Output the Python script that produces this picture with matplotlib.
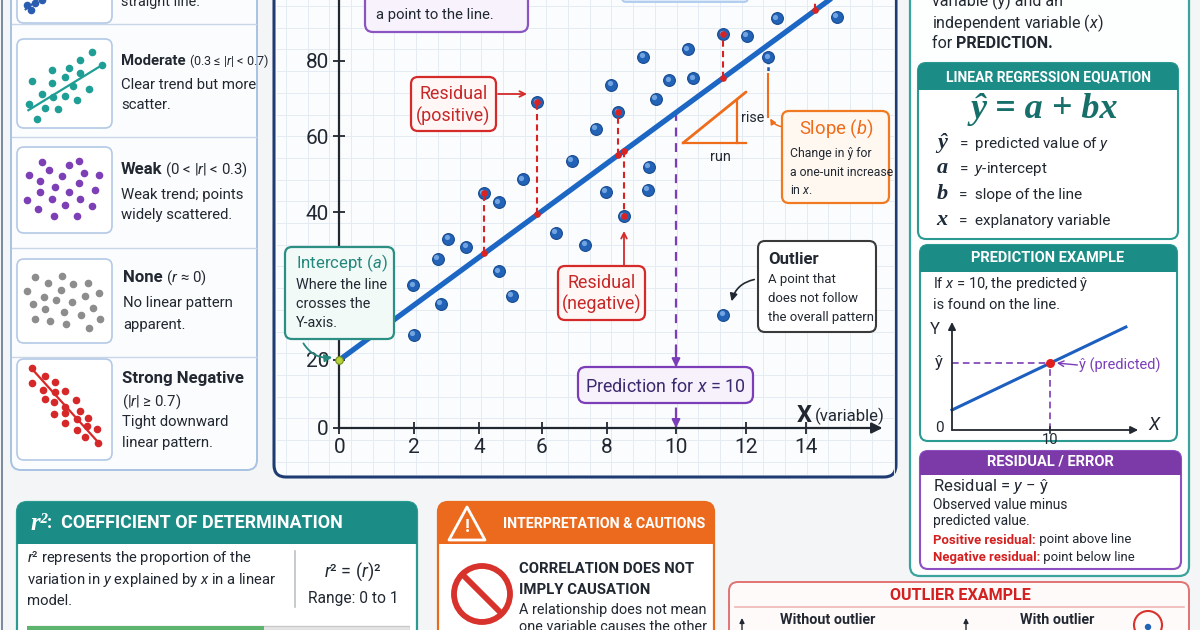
import numpy as np
import matplotlib.pyplot as plt
from matplotlib import font_manager
from matplotlib.patches import FancyBboxPatch, Rectangle, Circle, Polygon, FancyArrowPatch
from matplotlib.transforms import offset_copy

names = {f.name for f in font_manager.fontManager.ttflist}
SANS = 'Roboto' if 'Roboto' in names else 'DejaVu Sans'
HAS_NARROW = 'Liberation Sans Narrow' in names
NARROW = 'Liberation Sans Narrow' if HAS_NARROW else SANS
SERIF = 'Liberation Serif' if 'Liberation Serif' in names else 'DejaVu Serif'

plt.rcParams['font.family'] = [SANS, 'DejaVu Sans']
plt.rcParams['mathtext.fontset'] = 'custom'
plt.rcParams['mathtext.rm'] = SANS
plt.rcParams['mathtext.it'] = SANS + ':italic'
plt.rcParams['mathtext.bf'] = SANS + ':bold'


def nf(size):
    # narrow font gets a bigger size to keep the same width
    return size if HAS_NARROW else size * 0.86


# ---------------- data ----------------
# main scatter (observed x, y)
x_obs = [1.98, 2.0, 2.73, 2.83, 3.06, 3.61, 4.16, 4.63, 4.63, 5.04, 5.39, 5.86, 6.44, 6.92,
         7.33, 7.65, 7.97, 8.12, 8.33, 8.49, 9.05, 9.18, 9.22, 9.42, 9.81, 10.34, 10.5,
         11.36, 12.03, 12.75, 13.03, 15.02]
y_obs = [30.1, 23.4, 33.7, 27.6, 36.4, 35.3, 44.9, 42.6, 32.0, 28.7, 48.6, 69.0, 37.2, 53.5,
         35.6, 61.9, 45.3, 73.6, 66.3, 39.4, 81.1, 45.8, 51.9, 69.9, 74.9, 83.1, 75.4,
         87.1, 86.7, 81.0, 91.4, 91.8]
outlier_x = [11.36]
outlier_y = [26.1]
intercept_a = 20
line_x = [0, 15.0]
line_y = [20, 97.6]
resid_x = [4.16, 5.86, 8.33, 8.49, 11.36, 14.3]
resid_obs = [44.9, 69.0, 66.3, 39.4, 87.1, 99.0]
resid_fit = [34.4, 39.7, 55.0, 56.1, 75.5, 93.5]
pred_x = 10
pred_fit = 66.3
slope_x = 12.75
x_ticks = [0, 2, 4, 6, 8, 10, 12, 14]
y_ticks = [0, 20, 40, 60, 80]

# hand-drawn ruler of the picture (value -> pixel)
x_knot_val = [-2, 0, 2, 4, 6, 8, 10, 12, 14, 17]
x_knot_px = [272.7, 339.3, 414, 479, 541.7, 607, 676, 745.7, 806, 896]
y_knot_val = [-20, 0, 20, 40, 60, 80, 100]
y_knot_px = [496, 428, 360, 212, 136, 61, -14]

# correlation icons (0-10 box units)
pos_x = [1.0, 1.5, 1.9, 2.6, 3.4, 4.2, 5.0, 5.8, 6.6, 7.4, 8.2]
pos_y = [2.1, 1.5, 2.3, 2.7, 3.6, 4.4, 5.2, 6.1, 6.7, 7.6, 8.4]
mod_x = [7.9, 6.6, 3.7, 5.5, 6.6, 1.6, 3.7, 5.1, 5.9, 7.6, 2.6, 3.8, 5.1, 6.3, 1.3, 2.9, 4.3, 2.1, 9.0]
mod_y = [8.5, 7.6, 6.5, 6.7, 6.2, 5.3, 5.1, 5.7, 4.7, 4.4, 3.8, 3.5, 3.6, 3.1, 2.7, 2.3, 2.1, 1.0, 7.1]
weak_x = [2.6, 6.5, 3.4, 5.5, 1.3, 4.7, 7.1, 8.6, 2.4, 6.5, 4.0, 2.4, 5.5, 8.2, 3.7, 6.6, 1.1, 5.0, 7.9, 2.2, 3.9, 6.3]
weak_y = [8.3, 8.4, 7.3, 7.9, 6.7, 6.6, 7.0, 6.7, 6.0, 5.8, 5.3, 4.8, 4.8, 5.0, 3.9, 3.9, 3.8, 3.3, 3.1, 2.8, 2.0, 2.0]
none_x = [1.9, 4.7, 3.3, 5.9, 7.5, 1.1, 4.6, 2.8, 7.2, 8.6, 1.7, 4.1, 5.8, 8.0, 2.9, 4.9, 6.7, 1.9, 3.5, 5.2, 8.7, 7.6]
none_y = [7.8, 8.0, 7.1, 7.0, 7.2, 6.2, 6.3, 5.5, 5.6, 5.9, 4.6, 5.1, 4.9, 4.2, 4.0, 3.7, 3.3, 2.9, 2.6, 2.3, 2.9, 1.8]
neg_x = [1.6, 2.9, 1.6, 4.0, 2.7, 4.0, 5.1, 3.0, 3.9, 6.2, 5.1, 6.6, 3.9, 5.1, 6.3, 7.5, 5.1, 7.4, 6.3, 8.4, 7.2, 8.5]
neg_y = [9.1, 8.3, 7.6, 7.7, 6.9, 6.7, 6.8, 6.0, 5.7, 5.9, 5.2, 4.9, 4.6, 4.7, 4.1, 4.2, 3.7, 3.4, 3.0, 3.1, 2.3, 1.7]

# prediction example mini chart
mini_line_x = [0, 17.75]
mini_line_y = [2.0, 10.3]
mini_pred_x = 10
mini_pred_y = 6.7

r2_value = 0.62

# ---------------- colours ----------------
NAVY = '#1f3c72'
TEAL = '#1c8c86'
TEAL_T = '#23877c'
PURPLE = '#7b3db8'
ORANGE = '#ee6c1a'
RED = '#d42a2a'
BLUE = '#2263b8'
DARK = '#222831'


def px_axes(ax):
    ax.set_xlim(0, 1200)
    ax.set_ylim(630, 0)
    ax.axis('off')


def rbox(ax, x0, y0, x1, y1, ec, fc='white', lw=1.5, r=7, z=2):
    p = FancyBboxPatch((x0, y0), x1 - x0, y1 - y0, boxstyle=f'round,pad=0,rounding_size={r}',
                       ec=ec, fc=fc, lw=lw, zorder=z)
    ax.add_patch(p)
    return p


def header(ax, x0, y0, x1, y1, fc, r=7, z=3):
    ax.add_patch(FancyBboxPatch((x0, y0), x1 - x0, y1 - y0, boxstyle=f'round,pad=0,rounding_size={r}',
                                ec='none', fc=fc, zorder=z))
    ax.add_patch(Rectangle((x0, (y0 + y1) / 2), x1 - x0, (y1 - y0) / 2, ec='none', fc=fc, zorder=z))


def t(ax, x, y, s, size=10, color=DARK, weight='normal', ha='left', va='center', family=None,
      style='normal', z=6):
    kw = dict(fontsize=size, color=color, fontweight=weight, ha=ha, va=va, style=style, zorder=z)
    if family:
        kw['family'] = family
    return ax.text(x, y, s, **kw)


def after(ax, prev, s, size=10, color=DARK, weight='normal', family=None, style='normal'):
    kw = dict(fontsize=size, color=color, fontweight=weight, style=style, zorder=6)
    if family:
        kw['family'] = family
    return ax.annotate(s, xy=(1, 0.5), xycoords=prev, ha='left', va='center', **kw)


fig = plt.figure(figsize=(12, 6.3), dpi=100)
fig.patch.set_facecolor('#f4f5f6')

bg = fig.add_axes([0, 0, 1, 1])
px_axes(bg)

# outer frame line on the left edge
bg.plot([1.5, 1.5], [0, 630], color='#66768f', lw=1.2)

# ---------- left panel ----------
rbox(bg, 11, -30, 257, 470, ec='#a8c2e3', fc='#fbfcfd', lw=1.4, r=10)
for yy in [24, 137, 248, 357]:
    bg.plot([12, 256], [yy, yy], color='#c9d6e8', lw=1.0, zorder=2)
icon_boxes = [(17, -62, 112, 23), (17, 39, 112, 128), (17, 147, 112, 233), (17, 259, 112, 343), (17, 359, 112, 460)]
for (a, b, c, d) in icon_boxes:
    rbox(bg, a, b, c, d, ec='#b3c9e6', fc='white', lw=1.2, r=7, z=3)

# ---------- main panel ----------
rbox(bg, 274, -20, 896, 477, ec=NAVY, fc='#fbfcfd', lw=2.2, r=12)
for gx in np.arange(286, 894, 21.7):
    bg.plot([gx, gx], [0, 474], color='#e5ebf2', lw=0.7, zorder=2.5)
for gy in np.arange(6, 474, 21.7):
    bg.plot([277, 893], [gy, gy], color='#e5ebf2', lw=0.7, zorder=2.5)

# ---------- right panel ----------
rbox(bg, 910, -30, 1189, 576, ec='#3aa39b', fc='#fdfefe', lw=1.6, r=10)
rbox(bg, 918, 63, 1178, 239, ec='#2a9a92', lw=1.5, r=8, z=3)
header(bg, 918, 63, 1178, 90, TEAL, r=8, z=4)
rbox(bg, 920, 245, 1177, 441, ec='#2a9a92', lw=1.5, r=8, z=3)
header(bg, 920, 245, 1177, 272, TEAL, r=8, z=4)
rbox(bg, 920, 451, 1181, 569, ec='#8e4fc2', lw=1.5, r=8, z=3)
header(bg, 920, 451, 1181, 475, '#7b3aa8', r=8, z=4)

# ---------- bottom panels ----------
rbox(bg, 17, 502, 417, 680, ec='#2a9a92', lw=1.6, r=10)
header(bg, 17, 502, 417, 544, TEAL, r=10)
rbox(bg, 438, 502, 714, 680, ec='#e86a1c', lw=1.6, r=10)
header(bg, 438, 502, 714, 544, '#ec6a1e', r=10)
rbox(bg, 729, 582, 1189, 680, ec='#e27272', fc='#fffafa', lw=1.4, r=9)

# ---------------- main chart ----------------
def fxw(v):
    return np.interp(v, x_knot_val, x_knot_px)


def fxi(p):
    return np.interp(p, x_knot_px, x_knot_val)


neg_ypx = [-p for p in y_knot_px]


def fyw(v):
    return np.interp(v, y_knot_val, neg_ypx)


def fyi(p):
    return np.interp(p, neg_ypx, y_knot_val)


L, R, B = 339.3, 896, 428
chart = fig.add_axes([L / 1200, (630 - B) / 630, (R - L) / 1200, B / 630])
chart.set_xscale('function', functions=(fxw, fxi))
chart.set_yscale('function', functions=(fyw, fyi))
chart.set_xlim(0, 17)
chart.set_ylim(0, fyi(0))
chart.patch.set_visible(False)
for side in ['top', 'right', 'bottom']:
    chart.spines[side].set_visible(False)
chart.spines['left'].set_color(DARK)
chart.spines['left'].set_linewidth(1.6)
chart.set_xticks(x_ticks, labels=[str(v) for v in x_ticks], fontfamily=NARROW, fontsize=nf(17.5))
chart.set_yticks(y_ticks, labels=[str(v) for v in y_ticks], fontfamily=NARROW, fontsize=nf(17.5))
chart.minorticks_off()
chart.tick_params(axis='x', direction='inout', length=9, width=1.3, colors=DARK, pad=3)
chart.tick_params(axis='y', direction='inout', length=9, width=1.3, colors=DARK, pad=3)
chart.annotate('', xy=(16.55, 0), xytext=(0, 0), annotation_clip=False,
               arrowprops=dict(arrowstyle='-|>', color=DARK, lw=1.6, mutation_scale=16, shrinkA=0, shrinkB=0))

chart.plot(line_x, line_y, color='#1c66c4', lw=3.8, solid_capstyle='round', zorder=3)

for xr, yo, yf in zip(resid_x, resid_obs, resid_fit):
    chart.plot([xr, xr], [yf, yo], color='#d92323', lw=1.5, ls=(0, (3, 2)), zorder=5)
    chart.scatter([xr, xr], [yf, yo], s=14, color='#d92323', zorder=6)

chart.plot([pred_x, pred_x], [pred_fit, 0], color=PURPLE, lw=1.6, ls=(0, (4, 3)), zorder=2)
chart.annotate('', xy=(pred_x, 17.9), xytext=(pred_x, 22), annotation_clip=False,
               arrowprops=dict(arrowstyle='-|>', color=PURPLE, lw=1.5, mutation_scale=12, shrinkA=0, shrinkB=0))
chart.annotate('', xy=(pred_x, 0), xytext=(pred_x, 3.5), annotation_clip=False,
               arrowprops=dict(arrowstyle='-|>', color=PURPLE, lw=1.5, mutation_scale=12, shrinkA=0, shrinkB=0))

chart.plot([slope_x, slope_x], [80.2, 77.2], color='#1d55a8', lw=1.8, ls=(0, (1.5, 1.2)), zorder=3)
chart.plot([slope_x, slope_x], [76.6, 65.0], color=ORANGE, lw=1.5, zorder=3)

hl = offset_copy(chart.transData, fig=fig, x=-1.6, y=1.6, units='dots')
for xs, ys in [(x_obs, y_obs), (outlier_x, outlier_y)]:
    chart.scatter(xs, ys, s=72, color=BLUE, edgecolor='#164a8e', lw=0.8, zorder=4)
    chart.scatter(xs, ys, s=14, color='#8dbbef', alpha=0.75, lw=0, zorder=4.5, transform=hl)
chart.scatter([0], [intercept_a], s=30, color='#b9d23c', edgecolor='#6d8f1c', lw=0.8, zorder=7, clip_on=False)

# ---------------- icons ----------------
def icon_axes(box):
    a, b, c, d = box
    ax = fig.add_axes([a / 1200, 1 - d / 630, (c - a) / 1200, (d - b) / 630])
    ax.set_xlim(0, 10)
    ax.set_ylim(0, 10)
    ax.axis('off')
    return ax


ia = icon_axes(icon_boxes[0])
ia.plot([0.9, 8.8], [1.6, 8.6], color='#2a5db0', lw=1.4)
ia.scatter(pos_x, pos_y, s=20, color='#2a5db0', zorder=3)
ia = icon_axes(icon_boxes[1])
ia.plot([1.2, 9.0], [2.0, 7.1], color='#1f9e95', lw=1.6)
ia.scatter(mod_x, mod_y, s=20, color='#1f9e95', zorder=3)
ia = icon_axes(icon_boxes[2])
ia.scatter(weak_x, weak_y, s=20, color='#7d3fb6', zorder=3)
ia = icon_axes(icon_boxes[3])
ia.scatter(none_x, none_y, s=20, color='#8d8d8d', zorder=3)
ia = icon_axes(icon_boxes[4])
ia.plot([1.5, 8.6], [9.1, 1.7], color='#d62828', lw=1.6)
ia.scatter(neg_x, neg_y, s=20, color='#d62828', zorder=3)

# ---------------- mini prediction chart ----------------
mini = fig.add_axes([952 / 1200, 1 - 430 / 630, 193 / 1200, 110 / 630])
mini.set_xlim(0, 19.7)
mini.set_ylim(0, 11)
mini.axis('off')
mini.annotate('', xy=(19.0, 0), xytext=(0, 0), annotation_clip=False,
              arrowprops=dict(arrowstyle='-|>', color=DARK, lw=1.3, mutation_scale=11, shrinkA=0, shrinkB=0))
mini.annotate('', xy=(0, 10.8), xytext=(0, 0), annotation_clip=False,
              arrowprops=dict(arrowstyle='-|>', color=DARK, lw=1.3, mutation_scale=11, shrinkA=0, shrinkB=0))
mini.plot(mini_line_x, mini_line_y, color='#1c5fc0', lw=2.2, clip_on=False)
mini.plot([0, mini_pred_x], [mini_pred_y, mini_pred_y], color=PURPLE, lw=1.2, ls=(0, (4, 2.5)))
mini.plot([mini_pred_x, mini_pred_x], [0, mini_pred_y], color=PURPLE, lw=1.2, ls=(0, (4, 2.5)))
mini.plot([mini_pred_x, mini_pred_x], [-0.3, 0.3], color=DARK, lw=1.2, clip_on=False)
mini.scatter([mini_pred_x], [mini_pred_y], s=30, color='#e02020', zorder=5)
mini.text(mini_pred_x, -0.3, '10', ha='center', va='top', fontsize=10.5, color=DARK)
mini.text(-0.9, mini_pred_y, 'ŷ', ha='right', va='center', fontsize=12, color=DARK)
mini.text(-1.2, 10.0, 'Y', ha='right', va='center', fontsize=12, color=DARK)
mini.text(-0.8, 0.2, '0', ha='right', va='center', fontsize=11, color=DARK)
mini.text(20.6, 0.5, 'X', ha='center', va='center', fontsize=13, color=DARK, style='italic')
mini.annotate('', xy=(mini_pred_x + 0.7, mini_pred_y), xytext=(mini_pred_x + 2.8, mini_pred_y - 0.2),
              arrowprops=dict(arrowstyle='->', color=PURPLE, lw=1.0, shrinkA=0, shrinkB=0))
mini.text(mini_pred_x + 3.0, mini_pred_y - 0.2, 'ŷ (predicted)', ha='left', va='center',
          fontsize=10.5, color=PURPLE)

# r^2 bar
rb = fig.add_axes([27 / 1200, 0, 383 / 1200, 8 / 630])
rb.barh([0], [1.0], color='#e6e6e6', height=1, edgecolor='#c8c8c8')
rb.barh([0], [r2_value], color='#5cb46e', height=1)
rb.set_xlim(0, 1)
rb.set_ylim(-0.5, 1.5)
rb.axis('off')

# ---------------- overlay: callouts & text ----------------
ov = fig.add_axes([0, 0, 1, 1])
px_axes(ov)

# left panel text
t(ov, 121, 2, 'straight line.', size=nf(12))
m = t(ov, 121, 61, 'Moderate', size=nf(12.5), weight='bold')
after(ov, m, ' (0.3 ≤ |$r$| < 0.7)', size=nf(10.5))
t(ov, 121, 85, 'Clear trend but more', size=nf(12.5))
t(ov, 121, 105, 'scatter.', size=nf(12.5))
m = t(ov, 121, 170, 'Weak', size=nf(14), weight='bold')
after(ov, m, ' (0 < |$r$| < 0.3)', size=nf(12.5))
t(ov, 121, 195, 'Weak trend; points', size=nf(12.5))
t(ov, 121, 215, 'widely scattered.', size=nf(12.5))
m = t(ov, 123, 278, 'None', size=nf(14), weight='bold')
after(ov, m, ' ($r$ ≈ 0)', size=nf(12.5))
t(ov, 123, 303, 'No linear pattern', size=nf(12.5))
t(ov, 123, 325, 'apparent.', size=nf(12.5))
t(ov, 122, 378, 'Strong Negative', size=nf(14), weight='bold')
t(ov, 122, 402, '(|$r$| ≥ 0.7)', size=nf(12.5))
t(ov, 122, 422, 'Tight downward', size=nf(12.5))
t(ov, 122, 443, 'linear pattern.', size=nf(12.5))

# top cut boxes
rbox(ov, 365, -20, 528, 32, ec='#8a55c0', fc='#f7f2fc', lw=1.6, r=8)
t(ov, 376, 15, 'a point to the line.', size=nf(12.5))
rbox(ov, 622, -20, 748, 2, ec='#a8c8ec', fc='#dbe9f8', lw=1.2, r=4)

# residual positive
rbox(ov, 411, 77, 496, 131, ec=RED, fc='#fff6f6', lw=1.6, r=7)
t(ov, 453.5, 94, 'Residual', size=nf(15), color='#c62828', ha='center', family=NARROW)
t(ov, 453.5, 116, '(positive)', size=nf(15), color='#c62828', ha='center', family=NARROW)
ov.annotate('', xy=(527, 94), xytext=(498, 94),
            arrowprops=dict(arrowstyle='->', color=RED, lw=1.3, shrinkA=0, shrinkB=0))

# residual negative
rbox(ov, 558, 266, 645, 320, ec=RED, fc='#fff6f6', lw=1.6, r=7)
t(ov, 601.5, 283, 'Residual', size=nf(15), color='#c62828', ha='center', family=NARROW)
t(ov, 601.5, 304, '(negative)', size=nf(15), color='#c62828', ha='center', family=NARROW)
ov.annotate('', xy=(624, 231), xytext=(624, 265),
            arrowprops=dict(arrowstyle='->', color=RED, lw=1.3, shrinkA=0, shrinkB=0))

# intercept
rbox(ov, 285, 247, 394, 339, ec='#2b8f84', fc='#f2faf8', lw=1.6, r=7)
t(ov, 296, 263, 'Intercept ($a$)', size=nf(14), color=TEAL_T, family=NARROW)
t(ov, 296, 285, 'Where the line', size=nf(12), family=NARROW)
t(ov, 296, 304, 'crosses the', size=nf(12), family=NARROW)
t(ov, 296, 323, 'Y-axis.', size=nf(12), family=NARROW)
ov.add_patch(FancyArrowPatch((302, 341), (335, 357), connectionstyle='arc3,rad=0.35',
                             arrowstyle='-|>', mutation_scale=11, color=TEAL_T, lw=1.3, zorder=6))

# prediction
rbox(ov, 578, 367, 753, 403, ec=PURPLE, fc='#f7f1fc', lw=1.6, r=8)
t(ov, 665.5, 386, 'Prediction for $x$ = 10', size=nf(15), color='#3b2a6e', ha='center', family=NARROW)

# outlier
rbox(ov, 758, 241, 876, 332, ec='#3a3a3a', fc='white', lw=1.5, r=7)
t(ov, 768, 259, 'Outlier', size=nf(14), weight='bold', family=NARROW)
t(ov, 768, 280, 'A point that', size=nf(11), family=NARROW)
t(ov, 768, 299, 'does not follow', size=nf(11), family=NARROW)
t(ov, 768, 317, 'the overall pattern.', size=nf(11), family=NARROW)
ov.add_patch(FancyArrowPatch((757, 279), (731, 304), connectionstyle='arc3,rad=0.35',
                             arrowstyle='-|>', mutation_scale=11, color=DARK, lw=1.2, zorder=6))

# slope
rbox(ov, 782, 111, 889, 203, ec='#f07a22', fc='#fff8f1', lw=1.6, r=7)
t(ov, 799, 129, 'Slope ($b$)', size=nf(15.5), color=ORANGE, family=NARROW)
t(ov, 790, 153, 'Change in ŷ for', size=nf(10.3), family=NARROW)
t(ov, 790, 172, 'a one-unit increase', size=nf(10.3), family=NARROW)
t(ov, 790, 190, 'in $x$.', size=nf(10.3), family=NARROW)
ov.add_patch(FancyArrowPatch((784, 127), (769, 116), connectionstyle='arc3,rad=-0.3',
                             arrowstyle='-|>', mutation_scale=8, color=ORANGE, lw=1.1, zorder=6))
ov.plot([683, 746], [143, 92], color=ORANGE, lw=2.0, solid_capstyle='round')
ov.plot([737, 737], [100, 143], color=ORANGE, lw=1.6)
ov.plot([683, 746], [143, 143], color=ORANGE, lw=1.6)
t(ov, 741, 118, 'rise', size=nf(12), family=NARROW)
t(ov, 720, 157, 'run', size=nf(12), ha='center', family=NARROW)

# x-axis title
t(ov, 797, 416, 'X', size=17, weight='bold', family=NARROW)
t(ov, 815, 416, '(variable)', size=nf(14), family=NARROW)

# ---------- right panel text ----------
t(ov, 932, 1, 'variable (y) and an', size=11.5)
t(ov, 932, 23, 'independent variable ($x$)', size=11.5)
m = t(ov, 932, 44, 'for ', size=11.5)
after(ov, m, 'PREDICTION.', size=11.5, weight='bold')

t(ov, 1048, 77, 'LINEAR REGRESSION EQUATION', size=10, color='white', weight='bold', ha='center')
t(ov, 1044, 110, 'ŷ = a + bx', size=26, color='#176f6a', ha='center', family=SERIF, style='italic', weight='bold')
defs = [('ŷ', 'predicted value of $y$', 144), ('a', '$y$-intercept', 169),
        ('b', 'slope of the line', 195), ('x', 'explanatory variable', 221)]
for sym, desc, yy in defs:
    t(ov, 942, yy - 1, sym, size=16, color='#1d2b3a', ha='center', family=SERIF, style='italic', weight='bold')
    t(ov, 959, yy, '=  ' + desc, size=11)

t(ov, 1048, 258, 'PREDICTION EXAMPLE', size=10.5, color='white', weight='bold', ha='center')
t(ov, 933, 284, 'If $x$ = 10, the predicted ŷ', size=10.5)
t(ov, 933, 305, 'is found on the line.', size=10.5)

t(ov, 1050, 462, 'RESIDUAL / ERROR', size=10.5, color='white', weight='bold', ha='center')
t(ov, 933, 487, 'Residual = $y$ − ŷ', size=12)
t(ov, 933, 505, 'Observed value minus', size=nf(11.5), family=NARROW)
t(ov, 933, 521, 'predicted value.', size=nf(11.5), family=NARROW)
m = t(ov, 933, 540, 'Positive residual:', size=nf(11), color='#d42020', weight='bold', family=NARROW)
after(ov, m, ' point above line', size=nf(11), family=NARROW)
m = t(ov, 933, 557, 'Negative residual:', size=nf(11), color='#d42020', weight='bold', family=NARROW)
after(ov, m, ' point below line', size=nf(11), family=NARROW)

# ---------- bottom panels text ----------
m = t(ov, 30, 523, 'r²', size=18, color='white', weight='bold', style='italic', family=SERIF)
after(ov, m, ':  COEFFICIENT OF DETERMINATION', size=nf(15), color='white', weight='bold', family=NARROW)
t(ov, 27, 558, '$r$² represents the proportion of the', size=nf(12.5), family=NARROW)
t(ov, 27, 580, 'variation in $y$ explained by $x$ in a linear', size=nf(12.5), family=NARROW)
t(ov, 27, 601, 'model.', size=nf(12.5), family=NARROW)
ov.plot([295, 295], [551, 607], color='#b8c4c4', lw=1.2)
t(ov, 353, 572, '$r$² = ($r$)²', size=nf(15), ha='center', family=NARROW)
t(ov, 353, 598, 'Range: 0 to 1', size=nf(13), ha='center', family=NARROW)

ov.add_patch(Polygon([(467, 507), (449, 540), (485, 540)], closed=True, fc='none', ec='white',
                     lw=2.0, joinstyle='round', zorder=5))
t(ov, 467, 527, '!', size=13, color='white', weight='bold', ha='center')
t(ov, 503, 524, 'INTERPRETATION & CAUTIONS', size=nf(11.8), color='white', weight='bold', family=NARROW)
ov.add_patch(Circle((482, 594), 28, fc='white', ec='#d8322c', lw=4.2, zorder=5))
ov.plot([463, 501], [575, 613], color='#d8322c', lw=4.2, zorder=6)
t(ov, 519, 569, 'CORRELATION DOES NOT', size=nf(12.5), weight='bold', family=NARROW)
t(ov, 519, 590, 'IMPLY CAUSATION', size=nf(12.5), weight='bold', family=NARROW)
t(ov, 519, 610, 'A relationship does not mean', size=nf(12), family=NARROW)
t(ov, 519, 627, 'one variable causes the other', size=nf(12), family=NARROW)

t(ov, 960, 596, 'OUTLIER EXAMPLE', size=nf(13.5), color='#d32020', weight='bold', ha='center', family=NARROW)
ov.plot([735, 1184], [607, 607], color='#efb6b6', lw=1.2)
t(ov, 828, 620, 'Without outlier', size=nf(12), weight='bold', ha='center', family=NARROW)
t(ov, 1057, 620, 'With outlier', size=nf(12), weight='bold', ha='center', family=NARROW)
for ax_x in [742, 966]:
    ov.annotate('', xy=(ax_x, 618), xytext=(ax_x, 632), annotation_clip=False,
                arrowprops=dict(arrowstyle='-|>', color=DARK, lw=1.0, mutation_scale=7, shrinkA=0, shrinkB=0))
ov.add_patch(Circle((1148, 625), 14, fc='none', ec='#d8322c', lw=1.5, zorder=5))
ov.add_patch(Circle((1148, 627), 3.2, fc=BLUE, ec='none', zorder=5))

fig.savefig('out.png', dpi=100, facecolor=fig.get_facecolor())
